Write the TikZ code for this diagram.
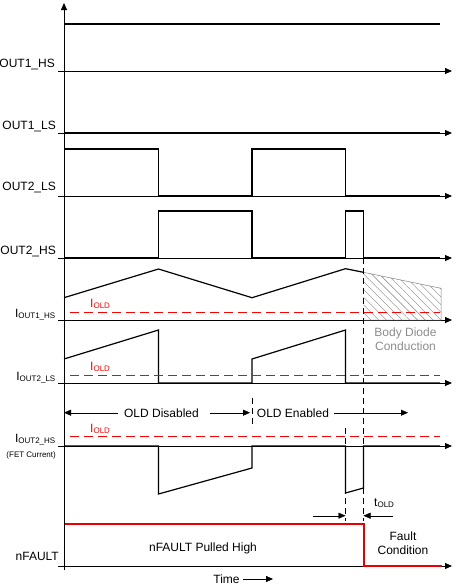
\documentclass[tikz,border=0pt]{standalone}
\usepackage{fontspec}
\setmainfont{Liberation Sans}
\usetikzlibrary{arrows.meta,patterns.meta}
\definecolor{fred}{RGB}{235,0,0}
\begin{document}
\begin{tikzpicture}[x=1pt,y=-1pt,>={Triangle[length=7pt,width=6pt]},line join=miter,
	font=\fontsize{12}{14}\selectfont,
	axe/.style={line width=0.8pt},
	sig/.style={line width=1.2pt},
	flt/.style={fill=fred},
	old/.style={red,line width=0.8pt,dash pattern=on 9pt off 5pt},
	vdash/.style={line width=0.8pt,dash pattern=on 6pt off 4pt},
	lbl/.style={anchor=base east,inner sep=0pt},
	txt/.style={anchor=base,inner sep=0pt}]
	\useasboundingbox (0,0) rectangle (458,587);
	% cac duong goc (baselines)
	\def\ya{71} \def\yb{133} \def\yc{196} \def\yd{258}
	\def\ye{320} \def\yf{383} \def\yg{446} \def\yh{566}
	% cac thoi diem
	\def\ta{158.5} \def\tb{252} \def\tc{345.5} \def\td{363.5} \def\te{440}
	\path
	(64,570) coordinate (O)
	(64,3) coordinate (T)
	(64,412.7) coordinate (D0)
	(118,412.7) coordinate (D1)
	(210,412.7) coordinate (D2)
	(250,412.7) coordinate (D3)
	(334,412.7) coordinate (E1)
	(408,412.7) coordinate (E2)
	(313,515.7) coordinate (K1)
	(\tc,515.7) coordinate (K2)
	(393,515.7) coordinate (K3)
	(\td,515.7) coordinate (K4)
	(243,579) coordinate (Z1)
	(273,579) coordinate (Z2);
	% truc doc va cac truc ngang
	\draw[axe,->] (O)--(T);
	\foreach \y in {\ya,\yb,\yc,\yd,\ye,\yf,\yg,\yh}
	\draw[axe,->] (58,\y)--(452,\y);
	% cac tin hieu
	\draw[sig] (64,24)--(\te,24);
	\draw[sig] (64,\yb)--(\te,\yb);
	\draw[sig] (64,149)-|(\ta,\yc)-|(\tb,149)-|(\tc,\yc)--(\te,\yc);
	\draw[sig] (64,\yd)-|(\ta,211)-|(\tb,\yd)-|(\tc,211)-|(\td,\yd)--(\te,\yd);
	\draw[gray,line width=0.5pt,pattern={Lines[angle=-45,distance=5.5pt,line width=0.4pt]},pattern color=gray]
	(\td,272.3)--(441,288.3)--(441,\ye)--(\td,\ye);
	\draw[sig] (64,297.7)--(\ta,269)--(\tb,297.7)--(\tc,268.7)--(\td,272.3);
	\draw[sig] (64,359)--(\ta,330)--(\ta,\yf)--(\tb,\yf)--(\tb,359)--(\tc,330)--(\tc,\yf)--(\te,\yf);
	\draw[sig] (64,\yg)--(\ta,\yg)--(\ta,494)--(\tb,468)--(\tb,\yg)--(\tc,\yg)--(\tc,493)--(\td,488)--(\td,\yg)--(\te,\yg);
	% nFAULT (duong do)
	\fill[flt] (64.5,522.5) rectangle (364.5,524.5);
	\fill[flt] (362.5,522.5) rectangle (364.5,567);
	\fill[flt] (362.5,565) rectangle (442,567);
	% nguong I_OLD
	\draw[old] (70,312.3)--(\te,312.3);
	\draw[old] (70,375.3)--(\te,375.3);
	\draw[old] (70,436.7)--(\te,436.7);
	% cac duong dut doc
	\draw[vdash] (\td,\yd)--(\td,521);
	\draw[vdash] (\tc,428)--(\tc,521);
	\draw[vdash] (\tb,398)--(\tb,428);
	% nhan truc
	\node[lbl] (n1) at (55,67) {OUT1\_HS};
	\node[lbl] (n2) at (56,129) {OUT1\_LS};
	\node[lbl] (n3) at (56,190) {OUT2\_LS};
	\node[lbl] (n4) at (56,254) {OUT2\_HS};
	\node[lbl] (n5) at (56,317) {I\textsubscript{OUT1\_HS}};
	\node[lbl] (n6) at (56,380) {I\textsubscript{OUT2\_LS}};
	\node[lbl] (n7) at (56,442) {I\textsubscript{OUT2\_HS}};
	\node[lbl,font=\fontsize{8}{9}\selectfont] (n8) at (56,457) {(FET Current)};
	\node[lbl] (n9) at (59,560) {nFAULT};
	\node[txt,anchor=base west,red] (o1) at (90,307) {I\textsubscript{OLD}};
	\node[txt,anchor=base west,red] (o2) at (90,370) {I\textsubscript{OLD}};
	\node[txt,anchor=base west,red] (o3) at (90,432) {I\textsubscript{OLD}};
	% vung OLD
	\node[txt] (dis) at (161.5,417) {OLD Disabled};
	\node[txt] (ena) at (293,417) {OLD Enabled};
	\draw[->] (D1)--(D0);
	\draw[->] (D2)--(D3);
	\draw[->] (E1)--(E2);
	\node[txt,black!45,align=center] (bd) at (405.5,350) {Body Diode\\Conduction};
	% t_OLD
	\draw[->] (K1)--(K2);
	\draw[->] (K3)--(K4);
	\node[txt,anchor=base west] (tol) at (374,506) {t\textsubscript{OLD}};
	\node[txt] (pul) at (203,551) {nFAULT Pulled High};
	\node[txt,align=center] (fc) at (403,554) {Fault\\Condition};
	\node[txt] (tim) at (226.5,583) {Time};
	\draw[->] (Z1)--(Z2);
\end{tikzpicture}
\end{document}
